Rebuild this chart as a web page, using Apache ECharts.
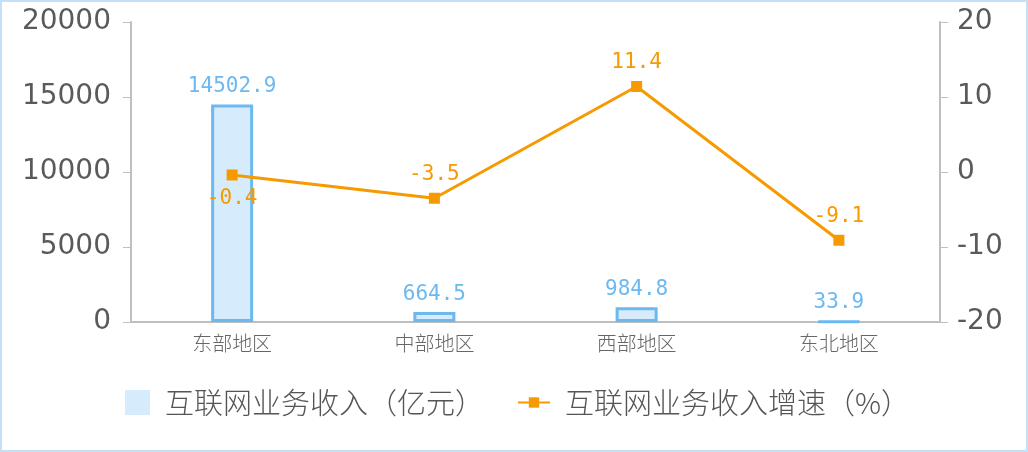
<!DOCTYPE html>
<html><head><meta charset="utf-8">
<script src="https://cdn.jsdelivr.net/npm/echarts@6/dist/echarts.min.js"></script>
<style>
html,body{margin:0;padding:0;background:#fff;}
#c{width:1028px;height:452px;box-sizing:border-box;border:2px solid #c4e0f8;}
</style></head>
<body><div id="c"></div>
<script>
var categories = ['东部地区','中部地区','西部地区','东北地区'];
var revenue = [14502.9, 664.5, 984.8, 33.9];
var growth = [-0.4, -3.5, 11.4, -9.1];
var growthLabelPos = ['bottom','top','top','top'];
var seriesNames = ['互联网业务收入（亿元）','互联网业务收入增速（%）'];

var chart = echarts.init(document.getElementById('c'));
var numFont = 'DejaVu Sans';
var cjkFont = 'Noto Sans CJK SC';
var legendText = {fontFamily:cjkFont,fontSize:29,color:'#555',fontWeight:300,padding:[0,0,0,10]};
chart.setOption({
  animation:false,
  grid:{left:129,right:86,top:20,bottom:128},
  legend:[
    {left:118, top:384, itemWidth:25, itemHeight:25, itemGap:10, padding:[2,5],
     textStyle:legendText,
     data:[{name:seriesNames[0], icon:'rect', itemStyle:{color:'#d6ebfb',borderWidth:0}}]},
    {left:510, top:384, itemWidth:32, itemHeight:13, itemGap:10, padding:[2,5],
     textStyle:legendText,
     data:[{name:seriesNames[1]}]}
  ],
  xAxis:{
    type:'category', data:categories,
    axisLine:{lineStyle:{color:'#bfbfbf',width:2}},
    axisTick:{show:false},
    axisLabel:{fontFamily:cjkFont,fontSize:20,color:'#666',margin:11,fontWeight:300}
  },
  yAxis:[
    {type:'value',min:0,max:20000,interval:5000,
     axisLine:{show:true,lineStyle:{color:'#bfbfbf',width:2}},
     axisTick:{show:true,length:8,lineStyle:{color:'#bfbfbf'}},
     splitLine:{show:false},
     axisLabel:{fontFamily:numFont,fontSize:28,color:'#5a5a5a',margin:20,formatter:function(v){return String(v);}}},
    {type:'value',min:-20,max:20,interval:10,position:'right',
     axisLine:{show:true,lineStyle:{color:'#bfbfbf',width:2}},
     axisTick:{show:true,length:8,lineStyle:{color:'#bfbfbf'}},
     splitLine:{show:false},
     axisLabel:{fontFamily:numFont,fontSize:28,color:'#5a5a5a',margin:17,formatter:function(v){return String(v);}}}
  ],
  series:[
    {name:seriesNames[0],type:'bar',data:revenue,barWidth:42,
     itemStyle:{color:'#d6ebfb',borderColor:'#6cb9f1',borderWidth:3},
     label:{show:true,position:'top',distance:7,color:'#6cb9f1',fontFamily:'DejaVu Sans Mono',fontSize:21}},
    {name:seriesNames[1],type:'line',yAxisIndex:1,
     data:growth.map(function(v,i){return {value:v,label:{position:growthLabelPos[i]}};}),
     symbol:'rect',symbolSize:11,
     lineStyle:{color:'#f59a00',width:3},
     itemStyle:{color:'#f59a00'},
     label:{show:true,distance:8,color:'#f59a00',fontFamily:'DejaVu Sans Mono',fontSize:21}}
  ]
});
</script></body></html>
